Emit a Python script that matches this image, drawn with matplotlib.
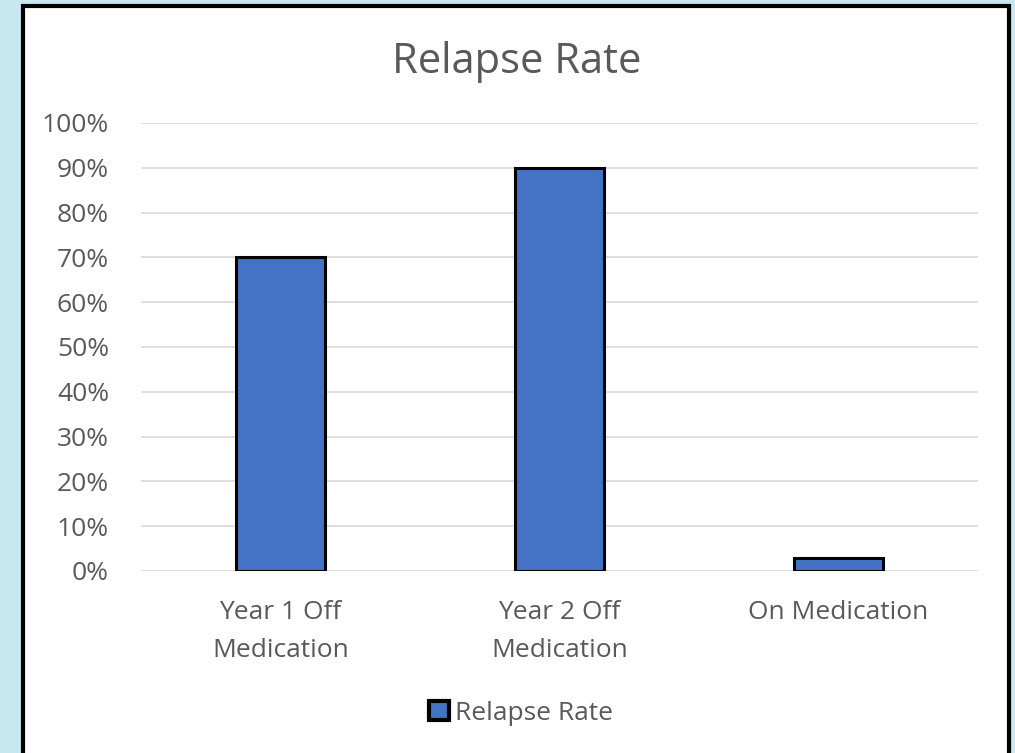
import matplotlib.pyplot as plt
from matplotlib.patches import Rectangle
from matplotlib.ticker import PercentFormatter

categories = ['Year 1 Off\nMedication', 'Year 2 Off\nMedication', 'On Medication']
relapse = [0.70, 0.90, 0.03]
series_name = 'Relapse Rate'

plt.rcParams['font.family'] = ['Open Sans', 'DejaVu Sans']
txt = '#595959'

fig = plt.figure(figsize=(10.15, 7.53), dpi=100)
fig.patch.set_facecolor('#c8e7f0')

# white chart panel with black frame (runs off the bottom edge)
W, H = 1015, 753
panel = Rectangle((23 / W, -0.05), (1009 - 23) / W, (H - 6) / H + 0.05,
                  transform=fig.transFigure, facecolor='white',
                  edgecolor='black', linewidth=3, zorder=-5)
fig.patches.append(panel)

ax = fig.add_axes([141 / W, 1 - 571 / H, (978 - 141) / W, (571 - 123) / H])
ax.set_facecolor('none')
ax.set_zorder(2)

x = range(len(categories))
ax.bar(x, relapse, width=0.32, color='#4472c4', edgecolor='black',
       linewidth=2.2, label=series_name, zorder=3)

ax.set_xlim(-0.5, 2.5)
ax.set_ylim(0, 1)
ax.set_yticks([i / 10 for i in range(11)])
ax.yaxis.set_major_formatter(PercentFormatter(1.0, decimals=0))
ax.set_xticks(list(x))
ax.set_xticklabels(categories, linespacing=1.7)
ax.tick_params(axis='both', length=0, labelsize=19, colors=txt)
ax.tick_params(axis='x', pad=21)
ax.tick_params(axis='y', pad=23)
ax.grid(axis='y', color='#d9d9d9', linewidth=1.2, zorder=0)
for s in ax.spines.values():
    s.set_visible(False)

fig.text(517 / W, 1 - 62 / H, 'Relapse Rate', ha='center', va='center',
         fontsize=30, color=txt)

leg = fig.legend(loc='center', bbox_to_anchor=(521 / W, 1 - 713 / H),
                 frameon=False, fontsize=19, handlelength=0.75,
                 handleheight=0.75, handletextpad=0.25)
for t in leg.get_texts():
    t.set_color(txt)
for h in leg.legend_handles:
    h.set_linewidth(3)

fig.savefig('out.png', dpi=100, facecolor=fig.get_facecolor())
